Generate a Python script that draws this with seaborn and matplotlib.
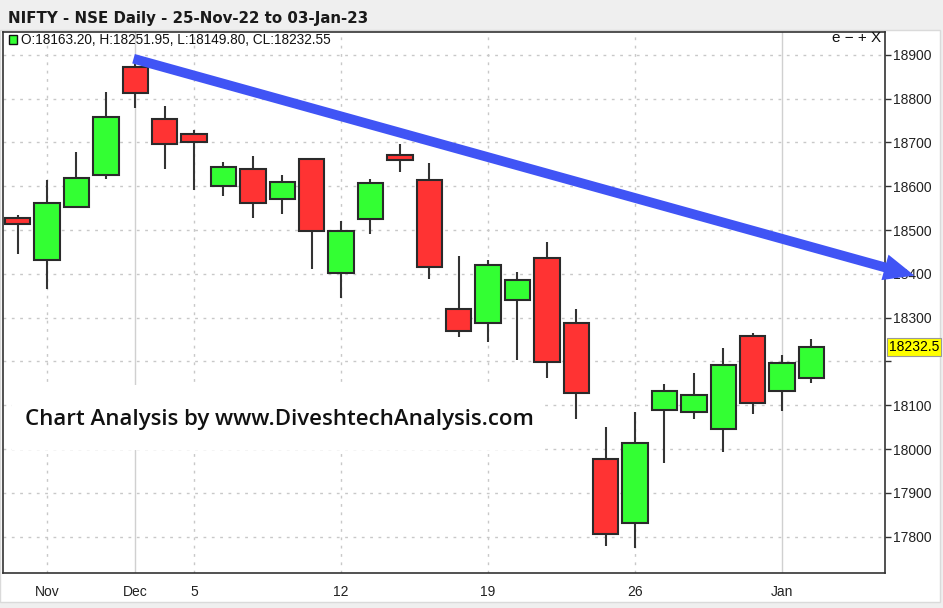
import matplotlib
matplotlib.use('Agg')
import matplotlib.pyplot as plt
from matplotlib.patches import Rectangle
import numpy as np
import pandas as pd
import seaborn as sns

# NIFTY daily candles, 25-Nov-22 to 03-Jan-23
dates = ['2022-11-25', '2022-11-28', '2022-11-29', '2022-11-30', '2022-12-01', '2022-12-02',
         '2022-12-05', '2022-12-06', '2022-12-07', '2022-12-08', '2022-12-09', '2022-12-12',
         '2022-12-13', '2022-12-14', '2022-12-15', '2022-12-16', '2022-12-19', '2022-12-20',
         '2022-12-21', '2022-12-22', '2022-12-23', '2022-12-26', '2022-12-27', '2022-12-28',
         '2022-12-29', '2022-12-30', '2023-01-02', '2023-01-03']
opens = [18528.45, 18430.55, 18552.45, 18625.70, 18871.95, 18752.40,
         18719.55, 18600.65, 18638.85, 18570.85, 18662.40, 18402.05,
         18524.40, 18671.25, 18614.40, 18319.10, 18288.80, 18340.30,
         18435.15, 18288.80, 17977.65, 17830.40, 18089.80, 18084.75,
         18045.70, 18259.10, 18131.70, 18163.20]
highs = [18534.90, 18614.25, 18678.10, 18816.05, 18887.60, 18781.95,
         18728.60, 18654.90, 18668.30, 18625.00, 18664.60, 18521.30,
         18617.10, 18696.10, 18652.90, 18440.95, 18431.65, 18404.90,
         18473.35, 18318.75, 18050.45, 18084.10, 18149.25, 18173.10,
         18229.70, 18265.25, 18215.15, 18251.95]
lows = [18445.70, 18365.60, 18552.45, 18616.55, 18778.20, 18639.20,
        18591.35, 18577.90, 18528.40, 18536.95, 18410.10, 18345.70,
        18490.65, 18632.80, 18387.70, 18255.15, 18244.55, 18202.65,
        18162.75, 18068.60, 17779.50, 17774.25, 17967.45, 18068.35,
        17992.80, 18080.30, 18086.50, 18149.80]
closes = [18512.75, 18562.75, 18618.05, 18758.35, 18812.50, 18696.10,
          18701.05, 18642.75, 18560.50, 18609.35, 18496.60, 18497.15,
          18608.00, 18660.30, 18414.90, 18269.00, 18420.45, 18385.30,
          18199.10, 18127.35, 17806.80, 18014.60, 18132.30, 18122.50,
          18191.00, 18105.30, 18197.45, 18232.55]

tick_pos = [1, 4, 6, 11, 16, 21, 26]
tick_labels = ['Nov', 'Dec', '5', '12', '19', '26', 'Jan']
month_breaks = [4, 26]
price_levels = list(range(17800, 19000, 100))

df = pd.DataFrame({'date': pd.to_datetime(dates), 'open': opens, 'high': highs,
                   'low': lows, 'close': closes})
df['x'] = np.arange(len(df))
df['up'] = df['close'] >= df['open']
df['bottom'] = df[['open', 'close']].min(axis=1)
df['body'] = (df['close'] - df['open']).abs()

sns.set_theme(style='white')
plt.rcParams['font.family'] = ['Liberation Sans', 'DejaVu Sans']

W, H = 943, 608
fig = plt.figure(figsize=(W / 100, H / 100), dpi=100, facecolor='#EFEFEF')

def fx(x):
    return x / W

def fy(y):
    return 1 - y / H

# white chart panel below the header strip
fig.patches.append(Rectangle((0, fy(602)), fx(940), fy(30) - fy(602), transform=fig.transFigure,
                             facecolor='white', edgecolor='#DADADA', lw=1, zorder=-5))

ax = fig.add_axes([fx(3), fy(573), fx(882), fy(32) - fy(573)])
ax.set_facecolor('white')
ax.set_xlim(-0.5, 29.5)
ax.set_ylim(17717, 18952)

# grid
for p in price_levels:
    ax.axhline(p, color='#C8C8C8', lw=1, ls=(0, (2, 4)), zorder=0.5)
for t in tick_pos:
    if t in month_breaks:
        ax.axvline(t, color='#D0D0D0', lw=1, zorder=0.5)
    else:
        ax.axvline(t, color='#C8C8C8', lw=1, ls=(0, (2, 4)), zorder=0.5)

# watermark background
ax.add_patch(Rectangle((fx(12), fy(450)), fx(533), fy(385) - fy(450), transform=fig.transFigure,
                       facecolor='white', edgecolor='none', zorder=1))

# candles
ax.vlines(df['x'], df['low'], df['high'], color='#333333', lw=1.5, zorder=2)
colors = np.where(df['up'], '#33FF33', '#FF3333')
ax.bar(df['x'], df['body'], bottom=df['bottom'], width=0.86, color=colors,
       edgecolor='#2A2A2A', linewidth=1.5, zorder=3)

# trend arrow from the Dec 1 high
ax.annotate('', xy=(30.5, 18396), xytext=(3.94, 18891),
            arrowprops=dict(arrowstyle='simple,head_length=2.2,head_width=1.9,tail_width=0.7',
                            facecolor='#4054F5', edgecolor='none', lw=0,
                            shrinkA=0, shrinkB=0, mutation_scale=10),
            annotation_clip=False, zorder=6)

# axes styling
for s in ax.spines.values():
    s.set_color('#333333')
    s.set_linewidth(1.2)
ax.yaxis.tick_right()
ax.set_yticks(price_levels)
ax.set_yticklabels(['' if p == 18200 else str(p) for p in price_levels])
ax.set_xticks(tick_pos)
ax.set_xticklabels(tick_labels)
ax.tick_params(axis='both', which='major', direction='out', length=4, width=1,
               color='#333333', labelsize=10, labelcolor='#222222')
ax.tick_params(axis='y', pad=2)
ax.tick_params(axis='x', pad=5)
ax.grid(False)

# last price tag
ax.text(1.004, 18232.55, '18232.5', transform=ax.get_yaxis_transform(), fontsize=10,
        va='center', ha='left', color='black', zorder=7, clip_on=False,
        bbox=dict(boxstyle='square,pad=0.12', facecolor='#FFFF00', edgecolor='#999999', lw=0.8))

# watermark text
fig.text(fx(25), fy(420), 'Chart Analysis by www.DiveshtechAnalysis.com', fontsize=16,
         family=['Open Sans', 'DejaVu Sans'], fontweight='semibold', color='#111111',
         va='center', ha='left', zorder=8)

# header and info line
fig.text(fx(8), fy(18), 'NIFTY - NSE Daily - 25-Nov-22 to 03-Jan-23', fontsize=10.8,
         family=['DejaVu Sans'], fontweight='bold', color='#1A1A1A', va='center', ha='left')
fig.patches.append(Rectangle((fx(9), fy(44)), fx(8), fy(35) - fy(44), transform=fig.transFigure,
                             facecolor='#33FF33', edgecolor='#111111', lw=1, zorder=5))
fig.text(fx(21), fy(40), 'O:18163.20, H:18251.95, L:18149.80, CL:18232.55', fontsize=9.8,
         color='#111111', va='center', ha='left')
fig.text(fx(881), fy(38), 'e \u2212 + X', fontsize=11, color='#111111', va='center', ha='right')

fig.savefig('out.png', dpi=100, facecolor=fig.get_facecolor())
